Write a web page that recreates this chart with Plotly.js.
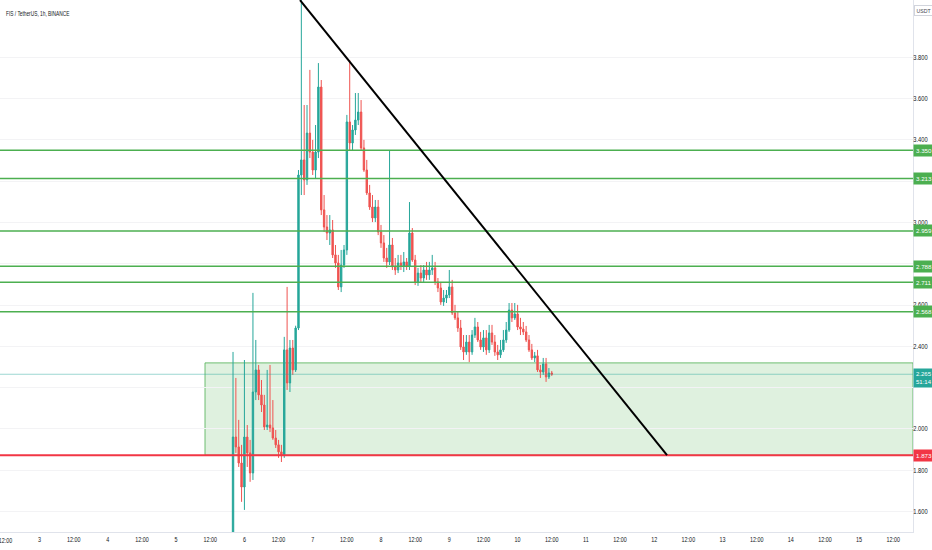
<!DOCTYPE html>
<html><head><meta charset="utf-8">
<script src="https://cdn.plot.ly/plotly-3.0.1.min.js"></script>
<style>html,body{margin:0;padding:0;background:#fff}#chart{width:932px;height:550px}</style>
</head><body><div id="chart"></div>
<script>
// ---- data ----
const firstCandle = {year: 2021, month: 9, day: 5, hour: 20}; // 1h candles
const openP = [1.487,1.961,1.913,1.835,1.719,1.961,1.884,1.787,2.179,2.286,
2.165,2.116,2.010,2.019,2.005,1.956,1.923,1.889,1.874,2.383,
2.223,2.392,2.286,2.489,3.230,3.303,3.206,3.433,3.341,3.254,
3.341,3.656,3.061,2.978,2.949,2.964,2.843,2.804,2.688,2.794,
2.867,3.487,3.385,3.448,3.496,3.535,3.361,3.254,3.143,3.075,
3.022,3.075,2.954,2.901,2.828,2.809,2.891,2.785,2.770,2.804,
2.789,2.809,2.789,2.949,2.818,2.712,2.755,2.731,2.770,2.746,
2.770,2.780,2.712,2.683,2.615,2.634,2.649,2.688,2.562,2.538,
2.489,2.397,2.373,2.421,2.373,2.455,2.494,2.431,2.397,2.441,
2.383,2.465,2.421,2.373,2.359,2.383,2.431,2.479,2.576,2.538,
2.557,2.494,2.484,2.470,2.431,2.383,2.344,2.354,2.286,2.276,
2.315,2.252,2.271];
const highP = [2.373,2.247,2.044,1.923,2.334,2.019,1.947,2.659,2.431,2.310,
2.237,2.165,2.286,2.310,2.140,1.995,1.947,1.923,2.446,2.688,
2.431,2.431,2.500,3.254,4.077,3.569,3.569,3.739,3.400,3.472,
3.772,3.690,3.133,3.036,3.036,3.012,2.891,2.843,2.867,2.891,
3.521,3.787,3.472,3.627,3.627,3.593,3.400,3.303,3.182,3.133,
3.109,3.109,2.988,2.939,2.877,3.351,2.925,2.828,2.843,2.843,
2.857,2.828,3.099,2.973,2.843,2.780,2.794,2.794,2.809,2.809,
2.843,2.809,2.731,2.712,2.673,2.673,2.770,2.722,2.601,2.567,
2.528,2.455,2.455,2.455,2.479,2.538,2.518,2.470,2.479,2.479,
2.504,2.504,2.455,2.407,2.431,2.479,2.518,2.610,2.610,2.610,
2.601,2.538,2.518,2.499,2.455,2.412,2.373,2.383,2.310,2.344,
2.344,2.295,2.281];
const lowP = [1.463,1.884,1.816,1.647,1.608,1.816,1.744,1.753,2.140,2.140,
2.082,1.995,1.995,1.985,1.947,1.908,1.860,1.840,1.860,2.189,
2.179,2.262,2.276,2.479,3.133,3.133,3.182,3.312,3.230,3.215,
3.312,3.036,2.954,2.915,2.891,2.828,2.780,2.673,2.663,2.780,
2.843,3.351,3.351,3.424,3.472,3.351,3.245,3.133,3.061,3.002,
3.002,2.939,2.877,2.809,2.780,2.794,2.770,2.746,2.755,2.770,
2.760,2.770,2.770,2.809,2.697,2.693,2.712,2.712,2.722,2.722,
2.746,2.697,2.663,2.601,2.596,2.610,2.634,2.552,2.528,2.470,
2.383,2.334,2.359,2.324,2.359,2.441,2.421,2.383,2.373,2.359,
2.368,2.407,2.354,2.334,2.344,2.373,2.417,2.470,2.518,2.528,
2.479,2.455,2.455,2.421,2.373,2.334,2.324,2.276,2.247,2.262,
2.228,2.242,2.257];
const closeP = [1.961,1.913,1.835,1.719,1.961,1.884,1.787,2.179,2.286,2.165,
2.116,2.010,2.019,2.005,1.956,1.923,1.889,1.874,2.383,2.223,
2.392,2.286,2.489,3.230,3.303,3.206,3.433,3.341,3.254,3.341,
3.656,3.061,2.978,2.949,2.964,2.843,2.804,2.688,2.794,2.867,
3.487,3.385,3.448,3.496,3.535,3.361,3.254,3.143,3.075,3.022,
3.075,2.954,2.901,2.828,2.809,2.891,2.785,2.770,2.804,2.789,
2.809,2.789,2.949,2.818,2.712,2.755,2.731,2.770,2.746,2.770,
2.780,2.712,2.683,2.615,2.634,2.649,2.688,2.562,2.538,2.489,
2.397,2.373,2.421,2.373,2.455,2.494,2.431,2.397,2.441,2.383,
2.465,2.421,2.373,2.359,2.383,2.431,2.479,2.576,2.538,2.557,
2.494,2.484,2.470,2.431,2.383,2.344,2.354,2.286,2.276,2.315,
2.252,2.271,2.265];

const resistanceLevels = [3.350, 3.213, 2.959, 2.788, 2.711, 2.568];
const resistanceLabels = ['3.350', '3.213', '2.959', '2.788', '2.711', '2.568'];
const supportLevel = 1.873;
const supportLabel = '1.873';
const lastPrice = 2.265;
const lastPriceLabel = '2.265';
const countdownLabel = '51:14';
const zoneTop = 2.320;
const zoneStart = '2021-09-05 10:09';
const trendStart = {t: '2021-09-06 19:32', p: 4.077};
const trendEnd = {t: '2021-09-12 04:30', p: 1.873};
const xRange = ['2021-09-02 10:07', '2021-09-15 18:56'];
const yRange = [1.501, 4.0775];

const yTickVals = [1.6, 1.8, 2.0, 2.2, 2.4, 2.6, 2.8, 3.0, 3.2, 3.4, 3.6, 3.8];
const yTickText = ['1.600', '1.800', '2.000', '', '2.400', '2.600', '', '3.000', '', '3.400', '3.600', '3.800'];
const xTickVals = ['2021-09-03','2021-09-03 12:00','2021-09-04','2021-09-04 12:00',
'2021-09-05','2021-09-05 12:00','2021-09-06','2021-09-06 12:00','2021-09-07','2021-09-07 12:00',
'2021-09-08','2021-09-08 12:00','2021-09-09','2021-09-09 12:00','2021-09-10','2021-09-10 12:00',
'2021-09-11','2021-09-11 12:00','2021-09-12','2021-09-12 12:00','2021-09-13','2021-09-13 12:00',
'2021-09-14','2021-09-14 12:00','2021-09-15','2021-09-15 12:00'];
const xTickText = ['3','12:00','4','12:00','5','12:00','6','12:00','7','12:00','8','12:00','9',
'12:00','10','12:00','11','12:00','12','12:00','13','12:00','14','12:00','15','12:00'];
const edgeTick = {t: '2021-09-02 12:00', label: '12:00'}; // partly cut tick at the left edge
const chartTitle = 'FIS / TetherUS, 1h, BINANCE';
const currencyLabel = 'USDT';

// ---- build hourly timestamps ----
function pad(n){return (n<10?'0':'')+n;}
const times = openP.map((_, i) => {
  const h = firstCandle.hour + i;
  const d = firstCandle.day + Math.floor(h / 24);
  return firstCandle.year + '-' + pad(firstCandle.month) + '-' + pad(d) + ' ' + pad(h % 24) + ':00';
});

const FONT = '"Liberation Sans", Arial, sans-serif';
const GREEN = '#4caf50', RED = '#f23645', TEAL = '#26a69a', UPC = '#26a69a', DNC = '#ef5350';

const trace = {
  type: 'candlestick', x: times, open: openP, high: highP, low: lowP, close: closeP,
  increasing: {line: {color: UPC, width: 1}, fillcolor: UPC},
  decreasing: {line: {color: DNC, width: 1}, fillcolor: DNC},
  whiskerwidth: 0, hoverinfo: 'skip', showlegend: false
};

const shapes = [];
shapes.push({type: 'rect', xref: 'x', yref: 'y', x0: zoneStart, x1: xRange[1], y0: supportLevel, y1: zoneTop,
  fillcolor: 'rgba(76,175,80,0.18)', line: {color: 'rgba(76,175,80,0.8)', width: 1}, layer: 'below'});
resistanceLevels.forEach(v => shapes.push({type: 'line', xref: 'paper', yref: 'y', x0: 0, x1: 1, y0: v, y1: v,
  line: {color: GREEN, width: 1.5}}));
shapes.push({type: 'line', xref: 'paper', yref: 'y', x0: 0, x1: 1, y0: lastPrice, y1: lastPrice,
  line: {color: 'rgba(38,166,154,0.45)', width: 1}});
shapes.push({type: 'line', xref: 'paper', yref: 'y', x0: 0, x1: 1, y0: supportLevel, y1: supportLevel,
  line: {color: RED, width: 2}});
shapes.push({type: 'line', xref: 'x', yref: 'y', x0: trendStart.t, y0: trendStart.p, x1: trendEnd.t, y1: trendEnd.p,
  line: {color: '#000000', width: 2}});

const annotations = [];
annotations.push({xref: 'paper', yref: 'paper', x: 0, y: 1, xanchor: 'left', yanchor: 'top', xshift: 4, yshift: -7,
  text: chartTitle, showarrow: false, font: {size: 8, color: '#131722', family: FONT}});
annotations.push({xref: 'x', yref: 'paper', x: edgeTick.t, y: 0, xanchor: 'center', yanchor: 'top', yshift: -2,
  text: edgeTick.label, showarrow: false, font: {size: 7.5, color: '#131722', family: FONT}});
annotations.push({xref: 'paper', yref: 'paper', x: 1, y: 1, xanchor: 'left', yanchor: 'top', xshift: 1, yshift: -5,
  text: currencyLabel, showarrow: false, font: {size: 5.2, color: '#434651', family: FONT},
  bordercolor: '#d1d4dc', borderwidth: 1, borderpad: 1.5, bgcolor: '#ffffff'});
resistanceLevels.forEach((v, i) => annotations.push({xref: 'paper', yref: 'y', x: 1, y: v, xanchor: 'left', yanchor: 'middle',
  xshift: 0, text: resistanceLabels[i], showarrow: false, bgcolor: GREEN, borderpad: 2,
  font: {size: 6.2, color: '#ffffff', family: FONT}}));
annotations.push({xref: 'paper', yref: 'y', x: 1, y: supportLevel, xanchor: 'left', yanchor: 'middle', xshift: 0,
  text: supportLabel, showarrow: false, bgcolor: RED, borderpad: 2,
  font: {size: 6.2, color: '#ffffff', family: FONT}});
annotations.push({xref: 'paper', yref: 'y', x: 1, y: lastPrice, xanchor: 'left', yanchor: 'top', xshift: 0, yshift: 6,
  text: lastPriceLabel + '<br>' + countdownLabel, showarrow: false, bgcolor: TEAL, borderpad: 2,
  font: {size: 6, color: '#ffffff', family: FONT}});

const layout = {
  width: 932, height: 550,
  margin: {l: 0, r: 19, t: 0, b: 18, pad: 0},
  paper_bgcolor: '#ffffff', plot_bgcolor: '#ffffff',
  showlegend: false,
  font: {family: FONT, size: 8, color: '#131722'},
  xaxis: {type: 'date', range: xRange, rangeslider: {visible: false}, tickmode: 'array',
    tickvals: xTickVals, ticktext: xTickText, showgrid: false,
    showline: true, linecolor: '#e0e3eb', linewidth: 1, ticks: '', zeroline: false,
    tickfont: {size: 7.5, color: '#131722', family: FONT}, fixedrange: true},
  yaxis: {side: 'right', range: yRange, tickmode: 'array', tickvals: yTickVals, ticktext: yTickText,
    showgrid: true, gridcolor: '#f3f3f5', gridwidth: 1, showline: true, linecolor: '#e0e3eb', linewidth: 1,
    ticks: '', ticklabelstandoff: -2, zeroline: false, tickfont: {size: 6.5, color: '#131722', family: FONT}, fixedrange: true},
  shapes: shapes,
  annotations: annotations
};

// TradingView uses a condensed face; squeeze the glyphs horizontally (text stays real text)
function squeeze(el, factor, keepLeft) {
  const w = el.getComputedTextLength();
  if (!(w > 0)) return;
  const before = el.getBBox();
  el.setAttribute('textLength', (w * factor).toFixed(2));
  el.setAttribute('lengthAdjust', 'spacingAndGlyphs');
  if (keepLeft) {
    const after = el.getBBox();
    const dx = before.x - after.x;
    const x0 = parseFloat(el.getAttribute('x') || '0');
    el.setAttribute('x', (x0 + dx).toFixed(2));
  }
}

Plotly.newPlot('chart', [trace], layout, {displayModeBar: false, staticPlot: true}).then(gd => {
  gd.querySelectorAll('.ytick text').forEach(t => squeeze(t, 0.88, true));
  gd.querySelectorAll('.xtick text').forEach(t => squeeze(t, 0.72, false));
  const ann = gd.querySelectorAll('.annotation-text');
  if (ann[0]) squeeze(ann[0], 0.6, true);
  if (ann[1]) squeeze(ann[1], 0.72, false);
});
</script>
</body></html>
